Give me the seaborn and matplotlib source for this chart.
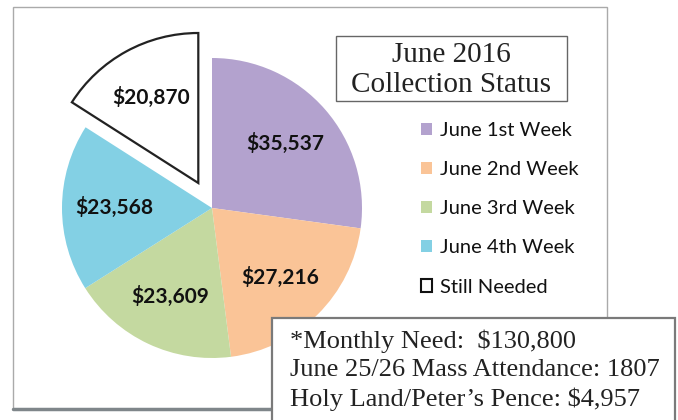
import matplotlib
matplotlib.use("Agg")
import matplotlib.pyplot as plt
from matplotlib.patches import Rectangle, Patch
import seaborn as sns

# data
weeks = ["June 1st Week", "June 2nd Week", "June 3rd Week", "June 4th Week", "Still Needed"]
amounts = [35537, 27216, 23609, 23568, 20870]
colors = ["#B3A2CE", "#FAC497", "#C4D9A0", "#83D0E4", "#FFFFFF"]
title_lines = ["June 2016", "Collection Status"]
notes = ["*Monthly Need:  $130,800",
         "June 25/26 Mass Attendance: 1807",
         "Holy Land/Peter\u2019s Pence: $4,957"]

sns.set_theme(style="white")
plt.rcParams["font.family"] = ["Lato", "DejaVu Sans"]

W, H = 678, 420
fig = plt.figure(figsize=(W / 100, H / 100), dpi=100)
ax = fig.add_axes([0, 0, 1, 1])

total = sum(amounts)
R = 150
pal = sns.color_palette(colors)
explode = [0, 0, 0, 0, 0.19 * R]

wedges, _, autotexts = ax.pie(
    amounts, colors=pal, startangle=90, counterclock=False,
    center=(212, H - 208), radius=R, explode=explode,
    autopct=lambda p: f"${p * total / 100:,.0f}", pctdistance=0.65,
    textprops=dict(fontsize=15, fontweight="bold", color="#111111"),
    wedgeprops=dict(linewidth=0),
)
wedges[-1].set_edgecolor("#222222")
wedges[-1].set_linewidth(1.6)

ax.set_xlim(0, W)
ax.set_ylim(0, H)
ax.set_aspect("auto")
ax.axis("off")

# chart frame
ax.add_patch(Rectangle((13, H - 409), 594, 402, fill=False,
                       edgecolor="#aaaaaa", linewidth=1, zorder=1))
ax.plot([13, 607], [H - 409, H - 409], color="#7f868a", linewidth=2.5, zorder=1)

# title box
ax.add_patch(Rectangle((336, H - 101), 231, 65, facecolor="white",
                       edgecolor="#666666", linewidth=1, zorder=2))
ax.text(451, H - 55, title_lines[0], ha="center", va="center", fontsize=21,
        family="Liberation Serif", color="#222222", zorder=3)
ax.text(451, H - 85, title_lines[1], ha="center", va="center", fontsize=21,
        family="Liberation Serif", color="#222222", zorder=3)

# legend
handles = [Patch(facecolor=c, edgecolor=("#111111" if c == "#FFFFFF" else c),
                 linewidth=(1.5 if c == "#FFFFFF" else 0)) for c in colors]
leg = ax.legend(handles, weeks, loc="upper left", bbox_to_anchor=(421 / W, 1 - 122 / H),
                frameon=False, fontsize=14.5, handlelength=0.55, handleheight=0.55,
                handletextpad=0.4, labelspacing=1.1, borderpad=0, borderaxespad=0)
for t in leg.get_texts():
    t.set_color("#111111")

# notes box
ax.add_patch(Rectangle((272, H - 430), 403, 112, facecolor="white",
                       edgecolor="#7a7a7a", linewidth=1.6, zorder=5))
for i, line in enumerate(notes):
    ax.text(290, H - (341 + 29 * i), line, ha="left", va="center", fontsize=19,
            family="Liberation Serif", color="#222222", zorder=6)

fig.savefig("out.png", dpi=100)
